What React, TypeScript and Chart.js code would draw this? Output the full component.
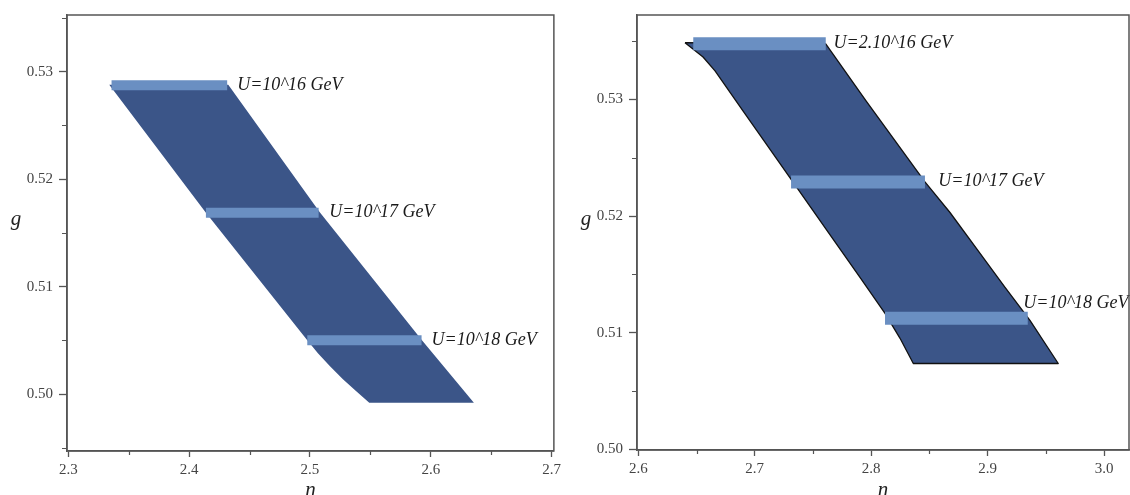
import React, { useEffect, useRef } from 'react';
import { Chart, registerables } from 'chart.js';

Chart.register(...registerables);

// ---------- Left panel data ----------
const leftPolyN = [2.3339, 2.4324, 2.5083, 2.5927, 2.6357, 2.5491, 2.5381, 2.5273, 2.5166, 2.5066, 2.4978, 2.4139, 2.3339];
const leftPolyG = [0.52877, 0.52877, 0.51689, 0.50502, 0.4992, 0.4992, 0.50029, 0.5014, 0.50261, 0.50381, 0.50502, 0.51687, 0.52877];
const leftBandStart = [2.3358, 2.4139, 2.4978];
const leftBandEnd = [2.4315, 2.5072, 2.5924];
const leftBandG = [0.52872, 0.51687, 0.50502];
const leftLabels = ['U=10^16 GeV', 'U=10^17 GeV', 'U=10^18 GeV'];
const leftLabelN = [2.4398, 2.516, 2.6007];
const leftLabelG = [0.52877, 0.51692, 0.50502];
const leftXTicks = [2.3, 2.4, 2.5, 2.6, 2.7];
const leftXMinor = [2.35, 2.45, 2.55, 2.65];
const leftYTicks = [0.5, 0.51, 0.52, 0.53];
const leftYMinor = [0.495, 0.505, 0.515, 0.525, 0.535];

// ---------- Right panel data ----------
const rightPolyN = [2.6401, 2.761, 2.7956, 2.8462, 2.8677, 2.8918, 2.915, 2.9364, 2.9607, 2.8362, 2.8248, 2.8119, 2.7904, 2.7638, 2.732, 2.705, 2.6899, 2.6659, 2.6556, 2.6472, 2.6401];
const rightPolyG = [0.53488, 0.53477, 0.52989, 0.52293, 0.52031, 0.51705, 0.51389, 0.51106, 0.50736, 0.50736, 0.50952, 0.51166, 0.51474, 0.51851, 0.52304, 0.52689, 0.52903, 0.53246, 0.53365, 0.53431, 0.53488];
const rightBandStart = [2.6472, 2.7312, 2.8119];
const rightBandEnd = [2.761, 2.8462, 2.9345];
const rightBandG = [0.53479, 0.52293, 0.51124];
const rightLabels = ['U=2.10^16 GeV', 'U=10^17 GeV', 'U=10^18 GeV'];
const rightLabelN = [2.7677, 2.8577, 2.9307];
const rightLabelG = [0.53485, 0.52299, 0.51253];
const rightXTicks = [2.6, 2.7, 2.8, 2.9, 3.0];
const rightXMinor = [2.65, 2.75, 2.85, 2.95];
const rightYTicks = [0.5, 0.51, 0.52, 0.53];
const rightYMinor = [0.505, 0.515, 0.525, 0.535];

const xTitle = 'n';
const yTitle = 'g';

const SERIF = '"Liberation Serif", "Times New Roman", serif';
const AXIS_COLOR = '#555555';
const FILL_COLOR = '#3b5588';
const BAND_COLOR = '#6a8fc2';

const decorPlugin = {
  id: 'decor',
  afterDatasetsDraw(chart: any, _args: any, opts: any) {
    const ctx = chart.ctx;
    const xs = chart.scales.x;
    const ys = chart.scales.y;
    ctx.save();
    ctx.font = `italic 18px ${SERIF}`;
    ctx.fillStyle = '#1a1a1a';
    ctx.textBaseline = 'middle';
    ctx.textAlign = 'left';
    (opts.labels || []).forEach((t: string, i: number) => {
      ctx.fillText(t, xs.getPixelForValue(opts.labelN[i]), ys.getPixelForValue(opts.labelG[i]));
    });
    ctx.restore();
  },
  afterDraw(chart: any, _args: any, opts: any) {
    const ctx = chart.ctx;
    const ca = chart.chartArea;
    const xs = chart.scales.x;
    const ys = chart.scales.y;
    ctx.save();
    ctx.strokeStyle = AXIS_COLOR;
    ctx.lineWidth = 1.5;
    ctx.strokeRect(ca.left, ca.top, ca.right - ca.left, ca.bottom - ca.top);
    ctx.lineWidth = 1.2;
    ctx.beginPath();
    (opts.yMinor || []).forEach((v: number) => {
      const y = Math.round(ys.getPixelForValue(v)) + 0.5;
      ctx.moveTo(ca.left - 5, y);
      ctx.lineTo(ca.left, y);
    });
    (opts.xMinor || []).forEach((v: number) => {
      const x = Math.round(xs.getPixelForValue(v)) + 0.5;
      ctx.moveTo(x, ca.bottom);
      ctx.lineTo(x, ca.bottom + 4);
    });
    ctx.stroke();
    ctx.fillStyle = '#222';
    ctx.font = `italic 21px ${SERIF}`;
    ctx.textAlign = 'center';
    ctx.textBaseline = 'middle';
    ctx.fillText(opts.yTitle, ca.left - 51, 219);
    ctx.textBaseline = 'alphabetic';
    ctx.fillText(opts.xTitle, (ca.left + ca.right) / 2, 496);
    ctx.restore();
  },
};

type PanelProps = {
  polyN: number[];
  polyG: number[];
  bandStart: number[];
  bandEnd: number[];
  bandG: number[];
  bandWidth: number;
  outline: boolean;
  labels: string[];
  labelN: number[];
  labelG: number[];
  xTicks: number[];
  xMinor: number[];
  yTicks: number[];
  yMinor: number[];
  xMin: number;
  xMax: number;
  yMin: number;
  yMax: number;
  yAxisWidth: number;
  xAxisHeight: number;
  padRight: number;
  left: number;
  width: number;
};

function Panel(p: PanelProps) {
  const ref = useRef<HTMLCanvasElement | null>(null);
  useEffect(() => {
    if (!ref.current) return;
    const polygon = p.polyN.map((n, i) => ({ x: n, y: p.polyG[i] }));
    const bandSets = p.bandStart.map((s, i) => ({
      data: [
        { x: s, y: p.bandG[i] },
        { x: p.bandEnd[i], y: p.bandG[i] },
      ],
      showLine: true,
      borderColor: BAND_COLOR,
      borderWidth: p.bandWidth,
      borderCapStyle: 'butt',
      pointRadius: 0,
      fill: false,
      order: 1,
    }));
    const tickFont = { family: SERIF, size: 15 };
    const chart = new Chart(ref.current, {
      type: 'scatter',
      data: {
        datasets: [
          ...bandSets,
          {
            data: polygon,
            showLine: true,
            fill: 'shape',
            backgroundColor: FILL_COLOR,
            borderColor: p.outline ? '#111111' : FILL_COLOR,
            borderWidth: p.outline ? 1.3 : 0,
            borderJoinStyle: 'round',
            pointRadius: 0,
            tension: 0,
            order: 2,
          },
        ] as any,
      },
      options: {
        animation: false,
        responsive: false,
        maintainAspectRatio: false,
        events: [],
        layout: { padding: { top: 14, right: p.padRight, left: 0, bottom: 0 } },
        plugins: {
          legend: { display: false },
          tooltip: { enabled: false },
          decor: {
            labels: p.labels,
            labelN: p.labelN,
            labelG: p.labelG,
            xMinor: p.xMinor,
            yMinor: p.yMinor,
            xTitle,
            yTitle,
          },
        } as any,
        scales: {
          x: {
            type: 'linear',
            min: p.xMin,
            max: p.xMax,
            afterFit: (s: any) => {
              s.height = p.xAxisHeight;
            },
            afterBuildTicks: (s: any) => {
              s.ticks = p.xTicks.map((v) => ({ value: v }));
            },
            ticks: {
              callback: (v: any) => Number(v).toFixed(1),
              font: tickFont,
              color: '#444',
              padding: 4,
              maxRotation: 0,
              autoSkip: false,
            },
            grid: { drawOnChartArea: false, drawTicks: true, tickLength: 6, tickColor: AXIS_COLOR, tickWidth: 1.3 },
            border: { display: true, color: AXIS_COLOR, width: 1.5 },
          },
          y: {
            type: 'linear',
            min: p.yMin,
            max: p.yMax,
            afterFit: (s: any) => {
              s.width = p.yAxisWidth;
            },
            afterBuildTicks: (s: any) => {
              s.ticks = p.yTicks.map((v) => ({ value: v }));
            },
            ticks: {
              callback: (v: any) => Number(v).toFixed(2),
              font: tickFont,
              color: '#444',
              padding: 6,
              autoSkip: false,
            },
            grid: { drawOnChartArea: false, drawTicks: true, tickLength: 8, tickColor: AXIS_COLOR, tickWidth: 1.3 },
            border: { display: true, color: AXIS_COLOR, width: 1.5 },
          },
        },
      } as any,
      plugins: [decorPlugin as any],
    });
    return () => chart.destroy();
  }, []);
  return (
    <div style={{ position: 'absolute', left: p.left, top: 0, width: p.width, height: 495 }}>
      <canvas ref={ref} width={p.width} height={495} style={{ display: 'block', width: p.width, height: 495 }} />
    </div>
  );
}

export default function App() {
  return (
    <div style={{ position: 'fixed', left: 0, top: 0, width: 1130, height: 495, background: '#ffffff', overflow: 'hidden' }}>
      <Panel
        polyN={leftPolyN}
        polyG={leftPolyG}
        bandStart={leftBandStart}
        bandEnd={leftBandEnd}
        bandG={leftBandG}
        bandWidth={10}
        outline={false}
        labels={leftLabels}
        labelN={leftLabelN}
        labelG={leftLabelG}
        xTicks={leftXTicks}
        xMinor={leftXMinor}
        yTicks={leftYTicks}
        yMinor={leftYMinor}
        xMin={2.29892}
        xMax={2.7019}
        yMin={0.49472}
        yMax={0.53526}
        yAxisWidth={67}
        xAxisHeight={44}
        padRight={11}
        left={0}
        width={565}
      />
      <Panel
        polyN={rightPolyN}
        polyG={rightPolyG}
        bandStart={rightBandStart}
        bandEnd={rightBandEnd}
        bandG={rightBandG}
        bandWidth={13}
        outline={true}
        labels={rightLabels}
        labelN={rightLabelN}
        labelG={rightLabelG}
        xTicks={rightXTicks}
        xMinor={rightXMinor}
        yTicks={rightYTicks}
        yMinor={rightYMinor}
        xMin={2.59888}
        xMax={3.02146}
        yMin={0.49994}
        yMax={0.53725}
        yAxisWidth={72}
        xAxisHeight={45}
        padRight={1}
        left={565}
        width={565}
      />
    </div>
  );
}
